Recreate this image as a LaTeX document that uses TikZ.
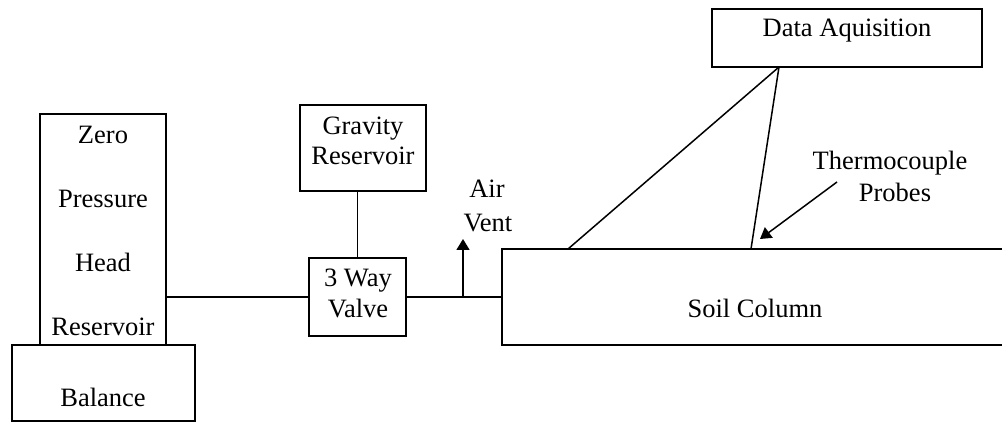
\documentclass[tikz,border=0pt]{standalone}
\usepackage{fontspec}
\setmainfont{Liberation Serif}
\usetikzlibrary{arrows.meta}
\begin{document}
\begin{tikzpicture}[x=1pt,y=-1pt,
  box/.style={draw, line width=1.5pt, inner sep=0pt, outer sep=0pt},
  txt/.style={anchor=base, inner sep=0pt, font=\fontsize{26.5}{30}\selectfont},
  wire/.style={line width=1.5pt},
  arr/.style={-{Triangle[length=11pt,width=13pt]}, line width=1.5pt}]
\clip (0,0) rectangle (1002,422);
\useasboundingbox (0,0) rectangle (1002,422);
% boxes
\node[box, minimum width=126pt, minimum height=231pt] (zphr) at (103,229.5) {};
\node[box, minimum width=183pt, minimum height=76pt] (bal) at (103.5,383) {};
\node[box, minimum width=126pt, minimum height=86pt] (grav) at (363,148) {};
\node[box, minimum width=97pt, minimum height=78pt] (valve) at (357.5,297) {};
\node[box, minimum width=518pt, minimum height=96pt] (soil) at (761,297) {};
\node[box, minimum width=270pt, minimum height=58pt] (daq) at (847,38) {};
% texts
\node[txt] (t1) at (103,144) {Zero};
\node[txt] (t2) at (103,208) {Pressure};
\node[txt] (t3) at (103,272) {Head};
\node[txt] (t4) at (103,335) {Reservoir};
\node[txt] (t5) at (103,406) {Balance};
\node[txt] (t6) at (363,135) {Gravity};
\node[txt] (t7) at (363,165) {Reservoir};
\node[txt] (t8) at (358,287) {3 Way};
\node[txt] (t9) at (358,318) {Valve};
\node[txt] (t10) at (487,198) {Air};
\node[txt] (t11) at (488,232) {Vent};
\node[txt] (t12) at (755,318) {Soil Column};
\node[txt] (t13) at (847,37) {Data Aquisition};
\node[txt] (t14) at (890,170) {Thermocouple};
\node[txt] (t15) at (895,202) {Probes};
% coordinates
\coordinate (ventbase) at (463,297);
\coordinate (venttip) at (463,239);
\coordinate (daqp) at (779,67);
\coordinate (probeA) at (568,249);
\coordinate (probeB) at (751,249);
\coordinate (tcfrom) at (837,182);
\coordinate (tcto) at (760,239);
% connectors
\draw[wire] (valve.west -| zphr.east) -- (valve.west);
\draw[wire] (grav.south -| valve.north) -- (valve.north);
\draw[wire] (valve.east) -- (soil.west);
\draw[arr] (ventbase) -- (venttip);
\draw[wire] (daqp) -- (probeA);
\draw[wire] (daqp) -- (probeB);
\draw[arr] (tcfrom) -- (tcto);
\end{tikzpicture}
\end{document}
